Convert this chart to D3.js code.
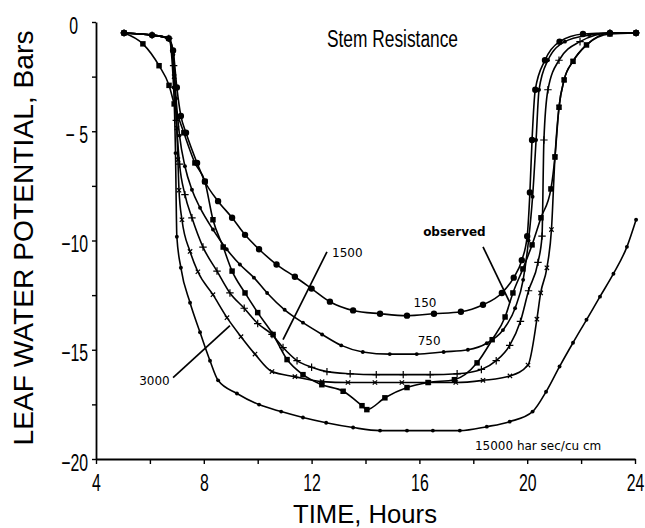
<!DOCTYPE html>
<html>
<head>
<meta charset="utf-8">
<script src="https://cdn.jsdelivr.net/npm/d3@7"></script>
<style>
  body { margin: 0; background: #fff; }
</style>
</head>
<body>
<svg id="chart" width="645" height="528"></svg>
<script>
// values: [hour, bars]
const s150 = [[5.04,-0.5],[6.08,-0.6],[6.7,-0.75],[6.86,-1.3],[7.0,-3.0],[7.15,-4.3],[7.34,-5.07],[7.75,-6.45],[8.04,-7.3],[8.53,-8.2],[9.05,-8.96],[9.53,-9.74],[10.05,-10.4],[10.7,-11.1],[11.38,-11.66],[12.0,-12.2],[12.68,-12.8],[13.54,-13.2],[14.54,-13.35],[15.54,-13.44],[16.54,-13.35],[17.54,-13.26],[18.36,-12.94],[19.06,-12.4],[19.5,-11.7],[19.8,-10.9],[20.0,-9.8],[20.1,-7.8],[20.18,-5.4],[20.3,-3.1],[20.66,-1.75],[21.2,-0.9],[22.07,-0.55],[23.07,-0.5],[24.04,-0.5]];
const s750 = [[5.04,-0.5],[6.08,-0.6],[6.7,-0.75],[6.87,-1.5],[6.97,-3.5],[7.1,-5.2],[7.3,-6.6],[7.56,-7.68],[7.86,-8.5],[8.34,-9.5],[8.85,-10.4],[9.34,-11.1],[9.86,-11.7],[10.35,-12.4],[11.0,-13.17],[11.68,-13.76],[12.39,-14.3],[13.1,-14.8],[13.9,-15.1],[14.9,-15.2],[15.9,-15.2],[16.9,-15.1],[17.8,-15.0],[18.5,-14.7],[19.1,-14.1],[19.55,-13.1],[19.85,-11.8],[20.05,-10.0],[20.2,-8.0],[20.33,-5.4],[20.44,-3.1],[20.77,-1.75],[21.4,-0.9],[22.3,-0.6],[23.07,-0.5],[24.04,-0.5]];
const s1500 = [[5.04,-0.5],[6.08,-0.6],[6.7,-0.75],[6.88,-2.0],[6.98,-4.5],[7.1,-6.5],[7.3,-7.9],[7.56,-8.96],[7.97,-10.3],[8.49,-11.4],[8.97,-12.4],[9.5,-13.1],[10.0,-13.8],[10.53,-14.3],[10.94,-14.9],[11.46,-15.5],[12.0,-15.8],[12.57,-16.0],[13.43,-16.1],[14.4,-16.14],[15.4,-16.14],[16.4,-16.14],[17.4,-16.1],[18.3,-15.9],[18.85,-15.5],[19.35,-14.8],[19.75,-13.7],[20.05,-12.3],[20.4,-11.0],[20.55,-9.8],[20.62,-5.4],[20.77,-3.1],[21.18,-1.75],[21.96,-0.9],[23.07,-0.5],[24.04,-0.5]];
const s3000 = [[5.04,-0.5],[6.08,-0.6],[6.7,-0.75],[6.9,-2.5],[7.0,-4.85],[7.04,-6.3],[7.08,-7.7],[7.19,-9.05],[7.49,-10.5],[7.78,-11.43],[8.34,-12.48],[8.86,-13.53],[9.38,-14.4],[9.9,-15.2],[10.53,-16.0],[11.38,-16.23],[12.39,-16.46],[13.35,-16.5],[14.35,-16.5],[15.35,-16.5],[16.35,-16.5],[17.35,-16.5],[18.36,-16.4],[19.36,-16.2],[20.03,-15.7],[20.36,-13.6],[20.5,-12.4],[20.73,-11.25],[20.9,-9.5],[21.03,-6.2],[21.18,-3.9],[21.37,-2.65],[21.7,-1.8],[22.2,-1.05],[23.07,-0.5],[24.04,-0.5]];
const s15000 = [[5.04,-0.5],[6.08,-0.6],[6.7,-0.75],[6.88,-3.0],[6.95,-6.0],[7.0,-9.83],[7.15,-11.25],[7.49,-12.85],[7.86,-14.2],[8.23,-15.5],[8.53,-16.4],[9.23,-17.0],[10.05,-17.51],[10.87,-17.83],[11.68,-18.1],[12.54,-18.34],[13.54,-18.56],[14.54,-18.7],[15.54,-18.7],[16.5,-18.7],[17.5,-18.7],[18.5,-18.52],[19.35,-18.29],[20.2,-17.83],[20.7,-16.92],[21.2,-15.77],[21.7,-14.68],[22.2,-13.63],[22.7,-12.57],[23.2,-11.52],[23.7,-10.29],[24.04,-9.05]];
const observed = [[5.04,-0.5],[5.74,-1.0],[6.34,-2.0],[6.71,-2.9],[6.9,-3.75],[7.26,-5.07],[7.67,-6.45],[8.04,-7.3],[8.34,-9.05],[8.72,-10.3],[9.05,-11.4],[9.53,-12.4],[10.0,-13.3],[10.57,-14.3],[11.09,-15.45],[11.68,-16.14],[12.38,-16.6],[13.17,-16.9],[13.87,-17.56],[14.05,-17.74],[14.72,-17.2],[15.54,-16.73],[16.32,-16.5],[17.3,-16.37],[18.14,-15.6],[18.7,-14.54],[19.18,-13.5],[19.47,-12.4],[19.84,-11.3],[20.18,-10.2],[20.51,-8.96],[20.88,-7.64],[21.03,-6.17],[21.18,-3.9],[21.37,-2.65],[21.7,-1.8],[22.2,-1.05],[23.07,-0.55],[24.04,-0.5]];

const xTicks = [4, 6, 8, 10, 12, 14, 16, 18, 20, 22, 24];
const xLabels = [4, 8, 12, 16, 20, 24];
const yTicks = [0, -2.5, -5, -7.5, -10, -12.5, -15, -17.5, -20];
const yLabels = [0, -5, -10, -15, -20];

// curve labels: text, hour, bars (baseline / anchor point)
const labels = [
  ["150", 16.21, -13.03, "middle"],
  ["750", 16.36, -14.77, "middle"],
  ["1500", 12.76, -10.75, "start"],
  ["3000", 6.17, -16.6, "middle"],
  ["observed", 17.3, -9.79, "middle"],
  ["15000 har sec/cu cm", 18.06, -19.57, "start"]
];
// leader lines: [hour1, bars1, hour2, bars2]
const leaders = [
  [18.36, -10.29, 19.36, -12.85],
  [12.57, -10.52, 10.94, -14.54],
  [6.86, -16.28, 8.97, -13.9]
];

const svg = d3.select("#chart");
const x = d3.scaleLinear().domain([4, 24]).range([96, 635]);
const y = d3.scaleLinear().domain([0, -20]).range([22, 459]);
const sx = 0.66; // squeeze for the narrow tick font

// axes
svg.append("g")
  .attr("transform", `translate(0,${y(-20)})`)
  .call(d3.axisBottom(x).tickValues(xTicks).tickSize(5).tickSizeOuter(0)
    .tickFormat(d => xLabels.includes(d) ? d : ""))
  .call(g => g.select(".domain").attr("stroke-width", 1.8))
  .call(g => g.selectAll(".tick line").attr("stroke-width", 1.4))
  .call(g => g.selectAll(".tick text")
    .attr("font-family", "Liberation Sans, Arial, sans-serif")
    .attr("font-size", 24)
    .attr("fill", "#000")
    .attr("y", 32).attr("dy", 0)
    .attr("transform", `scale(${sx},1)`));

const yfmt = d => d === 0 ? "0" : d === -5 ? "\u2212 5" : "\u2212" + Math.abs(d);
svg.append("g")
  .attr("transform", `translate(${x(4)},0)`)
  .call(d3.axisLeft(y).tickValues(yTicks).tickSize(4).tickSizeOuter(0)
    .tickFormat(d => yLabels.includes(d) ? yfmt(d) : ""))
  .call(g => g.select(".domain").attr("stroke-width", 1.8))
  .call(g => g.selectAll(".tick line").attr("stroke-width", 1.4))
  .call(g => g.selectAll(".tick text")
    .attr("font-family", "Liberation Sans, Arial, sans-serif")
    .attr("font-size", 24)
    .attr("fill", "#000")
    .attr("x", d => (d === 0 ? -18 : -8) / sx)
    .attr("y", 11).attr("dy", 0)
    .attr("transform", `scale(${sx},1)`));

// axis titles
svg.append("text")
  .attr("x", 365).attr("y", 523)
  .attr("text-anchor", "middle")
  .attr("font-family", "Liberation Sans, Arial, sans-serif")
  .attr("font-size", 25)
  .attr("textLength", 144).attr("lengthAdjust", "spacingAndGlyphs")
  .text("TIME, Hours");

svg.append("text")
  .attr("transform", "translate(33,238) rotate(-90)")
  .attr("text-anchor", "middle")
  .attr("font-family", "Liberation Sans, Arial, sans-serif")
  .attr("font-size", 28)
  .attr("textLength", 415).attr("lengthAdjust", "spacingAndGlyphs")
  .text("LEAF WATER POTENTIAL, Bars");

svg.append("text")
  .attr("x", 327).attr("y", 47)
  .attr("font-family", "Liberation Sans, Arial, sans-serif")
  .attr("font-size", 23)
  .attr("textLength", 131).attr("lengthAdjust", "spacingAndGlyphs")
  .text("Stem  Resistance");

// curves
const line = d3.line()
  .x(d => x(d[0]))
  .y(d => y(d[1]))
  .curve(d3.curveMonotoneX);

const series = [
  { data: s15000, mark: "dot" },
  { data: s3000, mark: "times" },
  { data: s1500, mark: "plus" },
  { data: s750, mark: "dot" },
  { data: s150, mark: "big" },
  { data: observed, mark: "square" }
];

series.forEach(s => {
  svg.append("path")
    .datum(s.data)
    .attr("fill", "none")
    .attr("stroke", "#000")
    .attr("stroke-width", 1.6)
    .attr("d", line);

  const g = svg.append("g");
  const pts = g.selectAll("path").data(s.data).enter().append("path")
    .attr("transform", d => `translate(${x(d[0])},${y(d[1])})`);
  if (s.mark === "dot") {
    pts.attr("d", d3.symbol(d3.symbolCircle, 12)).attr("fill", "#000");
  } else if (s.mark === "big") {
    pts.attr("d", d3.symbol(d3.symbolCircle, 32)).attr("fill", "#000");
  } else if (s.mark === "square") {
    pts.attr("d", d3.symbol(d3.symbolSquare, 30)).attr("fill", "#000");
  } else if (s.mark === "plus") {
    pts.attr("d", d3.symbol(d3.symbolPlus, 20)).attr("fill", "none")
      .attr("stroke", "#000").attr("stroke-width", 1.2);
  } else {
    pts.attr("d", d3.symbol(d3.symbolTimes, 14)).attr("fill", "none")
      .attr("stroke", "#000").attr("stroke-width", 1.2);
  }
});

// leader lines and curve labels
svg.append("g").selectAll("line").data(leaders).enter().append("line")
  .attr("x1", d => x(d[0])).attr("y1", d => y(d[1]))
  .attr("x2", d => x(d[2])).attr("y2", d => y(d[3]))
  .attr("stroke", "#000").attr("stroke-width", 1.7);

svg.append("g").selectAll("text").data(labels).enter().append("text")
  .attr("x", d => x(d[1])).attr("y", d => y(d[2]))
  .attr("text-anchor", d => d[3])
  .attr("font-family", "DejaVu Sans, sans-serif")
  .attr("font-size", 12)
  .attr("font-weight", d => d[0] === "observed" ? "bold" : "normal")
  .text(d => d[0]);
</script>
</body>
</html>
